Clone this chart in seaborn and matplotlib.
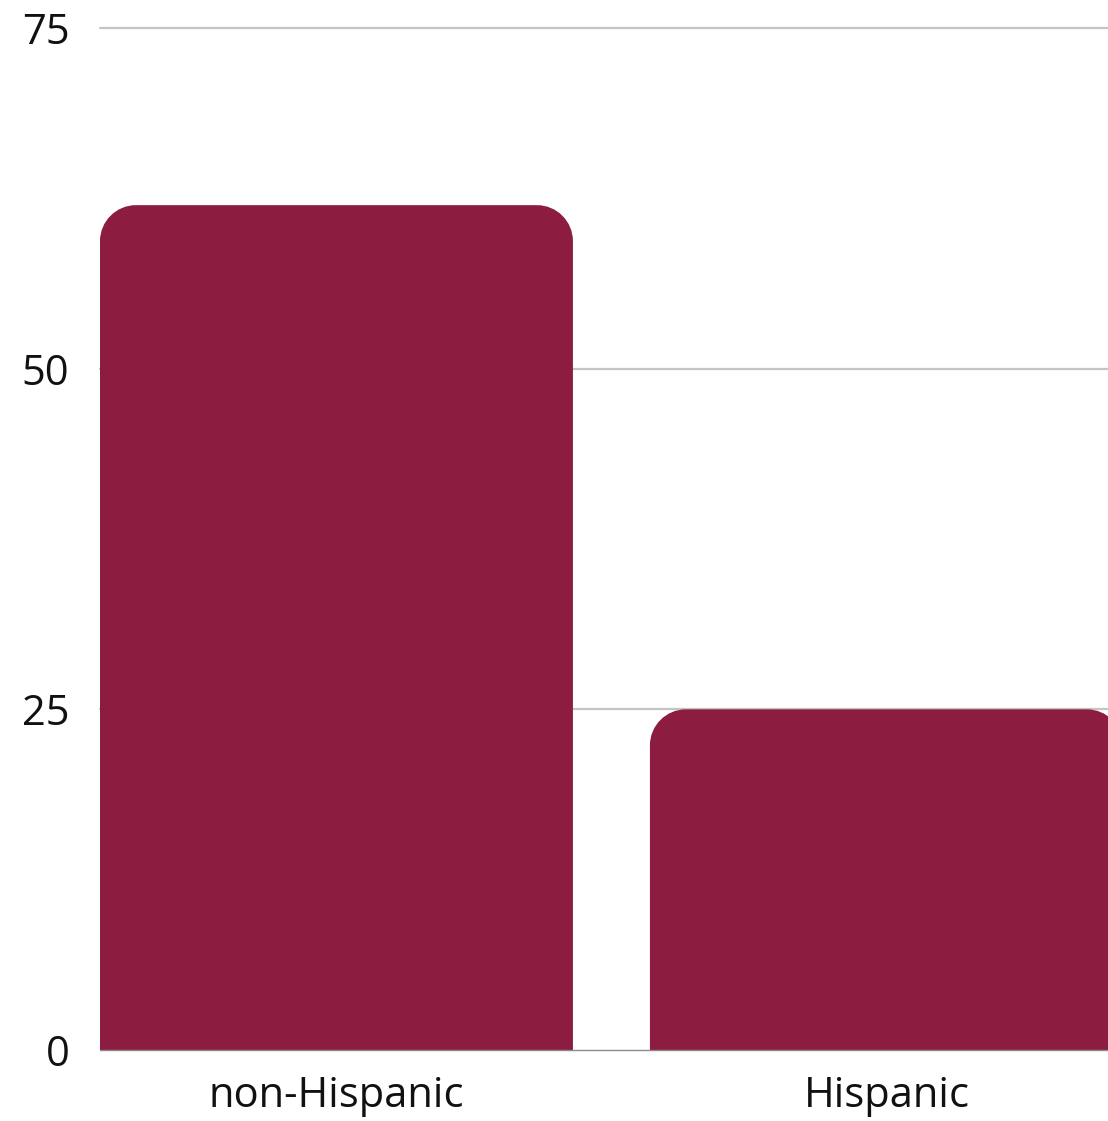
import matplotlib
matplotlib.use("Agg")
import matplotlib.pyplot as plt
from matplotlib.path import Path
from matplotlib.patches import PathPatch
import seaborn as sns
import pandas as pd

categories = ["non-Hispanic", "Hispanic"]
values = [62, 25]
y_ticks = [0, 25, 50, 75]

BAR_COLOR = "#8C1D40"

sns.set_theme(style="white")
plt.rcParams["font.family"] = ["Open Sans", "DejaVu Sans"]

df = pd.DataFrame({"group": categories, "value": values})

W, H, DPI = 1108, 1121, 100
fig = plt.figure(figsize=(W / DPI, H / DPI), dpi=DPI)
ax_left, ax_right = 100 / W, 1.0
ax_bottom, ax_top = (H - 1050) / H, 1 - 28 / H
ax = fig.add_axes([ax_left, ax_bottom, ax_right - ax_left, ax_top - ax_bottom])

sns.barplot(data=df, x="group", y="value", color=BAR_COLOR, width=0.86,
            saturation=1, ax=ax, zorder=2)

x0, x1 = -0.43, 1.403
ax.set_xlim(x0, x1)
ax.set_ylim(0, 75)

# replace the square bars by bars with rounded top corners
ax_w_px = (ax_right - ax_left) * W
ax_h_px = (ax_top - ax_bottom) * H
r_px = 36
rx = r_px * (x1 - x0) / ax_w_px
ry = r_px * 75 / ax_h_px
k = 0.5523
for p in list(ax.patches):
    bx, by = p.get_x(), p.get_y()
    bw, bh = p.get_width(), p.get_height()
    top = by + bh
    verts = [
        (bx, by),
        (bx, top - ry),
        (bx, top - ry + k * ry), (bx + rx - k * rx, top), (bx + rx, top),
        (bx + bw - rx, top),
        (bx + bw - rx + k * rx, top), (bx + bw, top - ry + k * ry), (bx + bw, top - ry),
        (bx + bw, by),
        (bx, by),
    ]
    codes = [Path.MOVETO, Path.LINETO,
             Path.CURVE4, Path.CURVE4, Path.CURVE4,
             Path.LINETO,
             Path.CURVE4, Path.CURVE4, Path.CURVE4,
             Path.LINETO, Path.CLOSEPOLY]
    patch = PathPatch(Path(verts, codes), facecolor=BAR_COLOR, edgecolor="none",
                      zorder=2, clip_on=True)
    p.remove()
    ax.add_patch(patch)

ax.set_yticks(y_ticks)
ax.set_yticklabels([str(t) for t in y_ticks])
for t in y_ticks[1:]:
    ax.axhline(t, color="#c4c4c4", linewidth=1.6, zorder=1, clip_on=False)
ax.axhline(0, color="#8a8a8a", linewidth=1.0, zorder=3, clip_on=False)

for s in ax.spines.values():
    s.set_visible(False)

ax.tick_params(axis="y", length=0, pad=22, labelsize=30, labelcolor="#111111")
ax.tick_params(axis="x", length=0, pad=18, labelsize=30, labelcolor="#111111")
ax.set_xlabel("")
ax.set_ylabel("")

fig.savefig("out.png", dpi=DPI)
